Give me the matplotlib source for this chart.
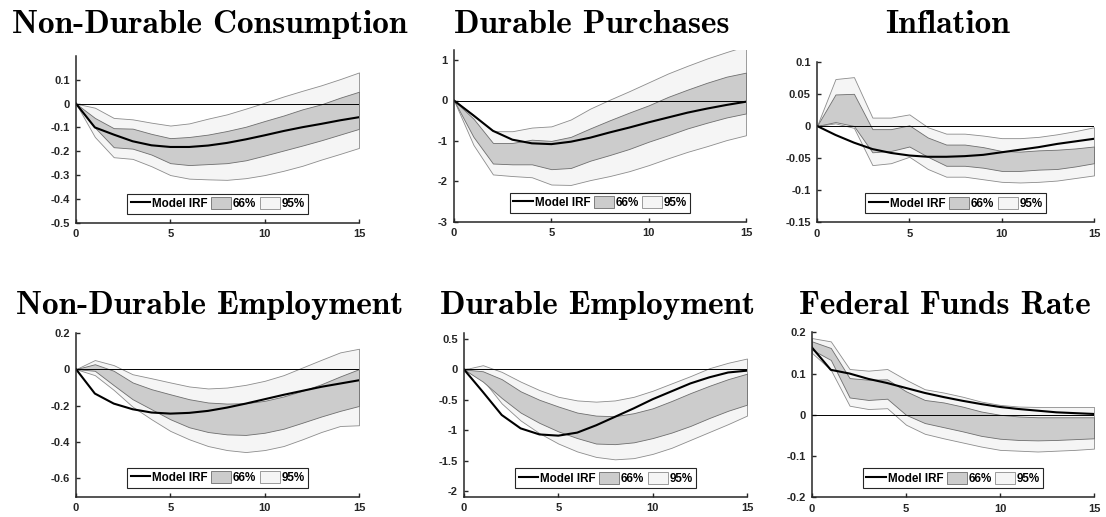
import numpy as np
import matplotlib.pyplot as plt
from matplotlib.patches import Patch
from matplotlib.lines import Line2D

plt.rcParams['axes.unicode_minus'] = False

h = np.arange(16)

# Non-Durable Consumption
ndc_irf = [0, -0.10, -0.13, -0.158, -0.175, -0.182, -0.182, -0.176, -0.165, -0.15, -0.133, -0.115, -0.099, -0.085, -0.07, -0.057]
ndc_hi66 = [0, -0.06, -0.103, -0.105, -0.127, -0.145, -0.14, -0.13, -0.115, -0.097, -0.073, -0.05, -0.024, -0.003, 0.025, 0.05]
ndc_lo66 = [0, -0.10, -0.183, -0.189, -0.214, -0.25, -0.258, -0.254, -0.25, -0.238, -0.218, -0.197, -0.176, -0.154, -0.13, -0.106]
ndc_hi95 = [0, -0.017, -0.06, -0.066, -0.08, -0.092, -0.083, -0.063, -0.045, -0.021, 0.004, 0.03, 0.054, 0.077, 0.103, 0.131]
ndc_lo95 = [0, -0.14, -0.225, -0.232, -0.263, -0.30, -0.315, -0.318, -0.32, -0.313, -0.30, -0.282, -0.261, -0.235, -0.211, -0.186]

# Durable Purchases
dp_irf = [0, -0.37, -0.75, -0.97, -1.06, -1.08, -1.02, -0.92, -0.79, -0.67, -0.54, -0.42, -0.30, -0.20, -0.11, -0.03]
dp_hi66 = [0, -0.45, -1.05, -1.05, -0.97, -1.0, -0.9, -0.69, -0.49, -0.3, -0.12, 0.09, 0.27, 0.44, 0.59, 0.69]
dp_lo66 = [0, -0.9, -1.56, -1.58, -1.58, -1.7, -1.67, -1.49, -1.35, -1.2, -1.02, -0.86, -0.69, -0.55, -0.42, -0.32]
dp_hi95 = [0, -0.35, -0.76, -0.76, -0.67, -0.64, -0.47, -0.2, 0.02, 0.23, 0.45, 0.67, 0.86, 1.04, 1.2, 1.35]
dp_lo95 = [0, -1.1, -1.83, -1.87, -1.9, -2.08, -2.09, -1.97, -1.87, -1.75, -1.6, -1.43, -1.27, -1.13, -0.98, -0.86]

# Inflation
inf_irf = [0, -0.014, -0.026, -0.036, -0.042, -0.046, -0.048, -0.048, -0.047, -0.045, -0.041, -0.037, -0.033, -0.028, -0.024, -0.02]
inf_hi66 = [0, 0.049, 0.05, -0.005, -0.005, 0.001, -0.018, -0.029, -0.029, -0.033, -0.039, -0.040, -0.038, -0.037, -0.035, -0.032]
inf_lo66 = [0, 0.006, 0.0, -0.041, -0.039, -0.032, -0.048, -0.062, -0.062, -0.065, -0.07, -0.07, -0.068, -0.067, -0.063, -0.058]
inf_hi95 = [0, 0.073, 0.076, 0.013, 0.013, 0.018, -0.002, -0.012, -0.012, -0.015, -0.019, -0.019, -0.017, -0.013, -0.008, -0.002]
inf_lo95 = [0, 0.004, -0.003, -0.061, -0.058, -0.048, -0.067, -0.079, -0.079, -0.083, -0.087, -0.088, -0.087, -0.085, -0.081, -0.077]

# Non-Durable Employment
nde_irf = [0, -0.134, -0.189, -0.22, -0.238, -0.244, -0.24, -0.229, -0.211, -0.189, -0.165, -0.141, -0.119, -0.097, -0.079, -0.061]
nde_hi66 = [0, 0.027, -0.009, -0.073, -0.11, -0.138, -0.165, -0.183, -0.189, -0.187, -0.174, -0.15, -0.119, -0.083, -0.04, 0.0]
nde_lo66 = [0, -0.009, -0.088, -0.165, -0.22, -0.275, -0.319, -0.345, -0.358, -0.361, -0.349, -0.327, -0.294, -0.26, -0.229, -0.202]
nde_hi95 = [0, 0.05, 0.022, -0.028, -0.05, -0.073, -0.095, -0.106, -0.101, -0.086, -0.064, -0.033, 0.009, 0.051, 0.092, 0.112]
nde_lo95 = [0, -0.033, -0.114, -0.206, -0.275, -0.339, -0.385, -0.422, -0.444, -0.455, -0.444, -0.422, -0.385, -0.345, -0.312, -0.308]

# Durable Employment
de_irf = [0, -0.37, -0.75, -0.97, -1.07, -1.09, -1.04, -0.92, -0.78, -0.64, -0.49, -0.36, -0.23, -0.13, -0.05, -0.02]
de_hi66 = [0, -0.03, -0.16, -0.36, -0.5, -0.61, -0.71, -0.76, -0.77, -0.72, -0.64, -0.52, -0.39, -0.27, -0.16, -0.07]
de_lo66 = [0, -0.2, -0.47, -0.71, -0.88, -1.02, -1.13, -1.22, -1.23, -1.2, -1.13, -1.04, -0.93, -0.8, -0.68, -0.58]
de_hi95 = [0, 0.07, -0.04, -0.2, -0.34, -0.45, -0.51, -0.53, -0.51, -0.45, -0.35, -0.23, -0.11, 0.02, 0.11, 0.18]
de_lo95 = [0, -0.17, -0.56, -0.84, -1.05, -1.22, -1.35, -1.44, -1.48, -1.46, -1.39, -1.29, -1.16, -1.03, -0.9, -0.76]

# Federal Funds Rate
ffr_irf = [0.163, 0.109, 0.1, 0.087, 0.077, 0.065, 0.053, 0.043, 0.034, 0.026, 0.019, 0.014, 0.01, 0.006, 0.004, 0.002]
ffr_hi66 = [0.178, 0.162, 0.089, 0.085, 0.086, 0.057, 0.036, 0.03, 0.02, 0.008, 0.0, -0.004, -0.006, -0.006, -0.006, -0.006]
ffr_lo66 = [0.158, 0.133, 0.042, 0.036, 0.039, 0.0, -0.02, -0.03, -0.04, -0.051, -0.058, -0.061, -0.062, -0.061, -0.059, -0.057]
ffr_hi95 = [0.186, 0.178, 0.111, 0.107, 0.111, 0.085, 0.062, 0.054, 0.044, 0.032, 0.024, 0.02, 0.019, 0.019, 0.019, 0.019]
ffr_lo95 = [0.15, 0.109, 0.022, 0.014, 0.016, -0.024, -0.046, -0.057, -0.067, -0.077, -0.085, -0.087, -0.089, -0.087, -0.085, -0.082]

titles = ['Non-Durable Consumption', 'Durable Purchases', 'Inflation',
          'Non-Durable Employment', 'Durable Employment', 'Federal Funds Rate']
yticks = [[-0.5, -0.4, -0.3, -0.2, -0.1, 0, 0.1],
          [-3, -2, -1, 0, 1],
          [-0.15, -0.1, -0.05, 0, 0.05, 0.1],
          [-0.6, -0.4, -0.2, 0, 0.2],
          [-2, -1.5, -1, -0.5, 0, 0.5],
          [-0.2, -0.1, 0, 0.1, 0.2]]
ylims = [(-0.5, 0.2), (-3, 1.25), (-0.15, 0.1), (-0.7, 0.2), (-2.1, 0.6), (-0.2, 0.2)]
xticks = [0, 5, 10, 15]

series = [
    (ndc_irf, ndc_lo66, ndc_hi66, ndc_lo95, ndc_hi95),
    (dp_irf, dp_lo66, dp_hi66, dp_lo95, dp_hi95),
    (inf_irf, inf_lo66, inf_hi66, inf_lo95, inf_hi95),
    (nde_irf, nde_lo66, nde_hi66, nde_lo95, nde_hi95),
    (de_irf, de_lo66, de_hi66, de_lo95, de_hi95),
    (ffr_irf, ffr_lo66, ffr_hi66, ffr_lo95, ffr_hi95),
]

W, H = 1106, 517
# axes boxes in pixels: left, right, top, bottom
boxes = [(76, 359, 56, 222.7), (454, 746, 50, 221.7), (817, 1094, 61.7, 222.3),
         (76, 359, 332.7, 496.7), (464, 747, 333, 497), (812, 1094, 332.3, 497.3)]
title_base = [33, 33, 33, 314, 314, 314]

c66 = '#cccccc'
c95 = '#f5f5f5'
e66 = '#6e6e6e'
e95 = '#8c8c8c'

fig = plt.figure(figsize=(W / 100, H / 100), dpi=100)

for i in range(6):
    l, r, t, b = boxes[i]
    ax = fig.add_axes([l / W, 1 - b / H, (r - l) / W, (b - t) / H])
    irf, lo66, hi66, lo95, hi95 = series[i]
    ax.fill_between(h, lo95, hi95, facecolor=c95, edgecolor=e95, linewidth=0.6)
    ax.fill_between(h, lo66, hi66, facecolor=c66, edgecolor=e66, linewidth=0.6)
    ax.plot([0, 15], [0, 0], color='black', linewidth=0.7)
    ax.plot(h, irf, color='black', linewidth=1.5)

    ax.set_xlim(0, 15)
    ax.set_ylim(*ylims[i])
    ax.set_xticks(xticks)
    ax.set_xticklabels([str(v) for v in xticks])
    ax.set_yticks(yticks[i])
    ax.set_yticklabels(['%g' % v for v in yticks[i]])
    for s in ['top', 'right']:
        ax.spines[s].set_visible(False)
    for s in ['left', 'bottom']:
        ax.spines[s].set_color('#262626')
        ax.spines[s].set_linewidth(1.1)
    ax.tick_params(direction='in', length=3, width=1, colors='#262626', pad=4.5)
    for lab in ax.get_xticklabels() + ax.get_yticklabels():
        lab.set_fontfamily('Liberation Sans')
        lab.set_fontweight('bold')
        lab.set_fontsize(8)

    handles = [Line2D([0], [0], color='black', linewidth=1.5),
               Patch(facecolor=c66, edgecolor=e66, linewidth=0.6),
               Patch(facecolor=c95, edgecolor=e95, linewidth=0.6)]
    leg = ax.legend(handles, ['Model IRF', '66%', '95%'], ncol=3, loc='lower center',
                    bbox_to_anchor=(0.5, 9 / (b - t)), borderaxespad=0,
                    fancybox=False, framealpha=1, edgecolor='#262626',
                    prop={'family': 'Liberation Sans', 'weight': 'bold', 'size': 8.4},
                    handlelength=1.7, handleheight=1.2, handletextpad=0.15,
                    columnspacing=0.3, borderpad=0.3)
    leg.get_frame().set_linewidth(0.8)

    cx = (l + r) / 2 - 8
    fig.text(cx / W, 1 - title_base[i] / H, titles[i], ha='center', va='baseline',
             fontfamily=['cmb10', 'DejaVu Serif'], fontsize=24)

fig.savefig('out.png', dpi=100)
